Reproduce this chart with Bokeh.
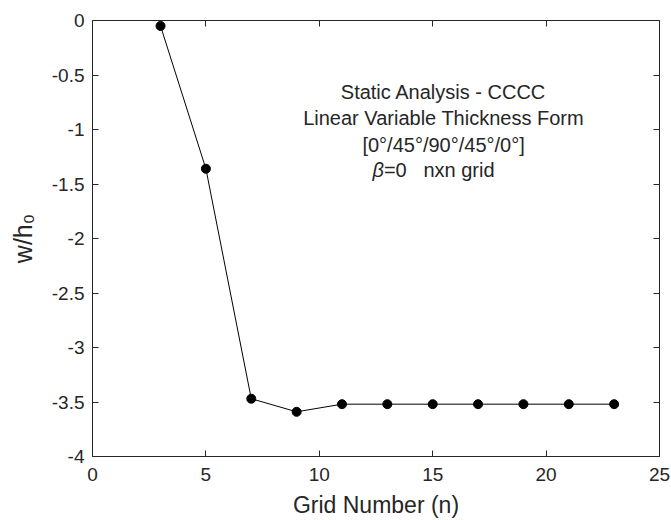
from bokeh.plotting import figure
from bokeh.models import Label, LinearAxis, FixedTicker, Range1d
from bokeh.embed import file_html
from bokeh.resources import INLINE

# ---- data ----
grid_n = [3, 5, 7, 9, 11, 13, 15, 17, 19, 21, 23]
w_h0 = [-0.05, -1.36, -3.47, -3.59, -3.52, -3.52, -3.52, -3.52, -3.52, -3.52, -3.52]

x_ticks = [0, 5, 10, 15, 20, 25]
x_tick_labels = ["0", "5", "10", "15", "20", "25"]
y_ticks = [0, -0.5, -1, -1.5, -2, -2.5, -3, -3.5, -4]
y_tick_labels = ["0", "-0.5", "-1", "-1.5", "-2", "-2.5", "-3", "-3.5", "-4"]

title_lines = ["Static Analysis - CCCC", "Linear Variable Thickness Form",
               "[0°/45°/90°/45°/0°]"]
beta_text = "β"
last_line = "=0\u00a0\u00a0\u00a0nxn grid"
x_label = "Grid Number (n)"
y_label = "w/h\u2080"

FONT = "Liberation Sans"
AX = "#262626"

p = figure(width=671, height=520, x_range=Range1d(0, 25), y_range=Range1d(-4, 0),
           output_backend="svg", toolbar_location=None,
           min_border_left=92, min_border_right=12, min_border_top=20, min_border_bottom=63)
p.xaxis.visible = False
p.yaxis.visible = False
p.xgrid.visible = False
p.ygrid.visible = False
p.outline_line_color = None
p.background_fill_color = "white"
p.border_fill_color = "white"


def style_axis(ax, ticks, labels):
    ax.ticker = FixedTicker(ticks=ticks)
    ax.major_label_overrides = {t: l for t, l in zip(ticks, labels)}
    ax.major_tick_in = 6
    ax.major_tick_out = 0
    ax.minor_tick_line_color = None
    ax.axis_line_color = AX
    ax.major_tick_line_color = AX
    ax.axis_line_width = 1
    ax.major_label_text_font = FONT
    ax.major_label_text_color = AX
    ax.major_label_text_font_size = "19px"


def mirror_axis(ax, ticks):
    # ticks only (drawn as minor ticks, so no labels are produced)
    ax.ticker = FixedTicker(ticks=[], minor_ticks=ticks)
    ax.major_tick_line_color = None
    ax.minor_tick_in = 6
    ax.minor_tick_out = 0
    ax.minor_tick_line_color = AX
    ax.axis_line_color = AX
    ax.axis_line_width = 1


bx = LinearAxis()
style_axis(bx, x_ticks, x_tick_labels)
bx.major_label_standoff = 11
bx.axis_label = x_label
bx.axis_label_text_font = FONT
bx.axis_label_text_font_size = "23px"
bx.axis_label_text_font_style = "normal"
bx.axis_label_text_color = AX
bx.axis_label_standoff = 8
p.add_layout(bx, "below")

ly = LinearAxis()
style_axis(ly, y_ticks, y_tick_labels)
ly.major_label_standoff = 8
ly.axis_label = y_label
ly.axis_label_text_font = FONT
ly.axis_label_text_font_size = "25px"
ly.axis_label_text_font_style = "normal"
ly.axis_label_text_color = AX
ly.axis_label_standoff = 12
p.add_layout(ly, "left")

tx = LinearAxis()
mirror_axis(tx, x_ticks)
p.add_layout(tx, "above")

ry = LinearAxis()
mirror_axis(ry, y_ticks)
p.add_layout(ry, "right")

p.line(grid_n, w_h0, line_color="black", line_width=1)
p.scatter(grid_n, w_h0, size=9, fill_color="black", line_color="black")

# annotation text
ys = [-0.656, -0.894, -1.144]
for t, yy in zip(title_lines, ys):
    p.add_layout(Label(x=15.48, y=yy, text=t, text_align="center", text_baseline="middle",
                       text_font=FONT, text_font_size="20px", text_color=AX))
p.add_layout(Label(x=12.85, y=-1.373, text=beta_text, text_align="right", text_baseline="middle",
                   text_font=FONT, text_font_size="20px", text_font_style="italic", text_color=AX))
p.add_layout(Label(x=12.85, y=-1.373, text=last_line, text_align="left", text_baseline="middle",
                   text_font=FONT, text_font_size="20px", text_color=AX))

open("out.html", "w").write(file_html(p, INLINE))
